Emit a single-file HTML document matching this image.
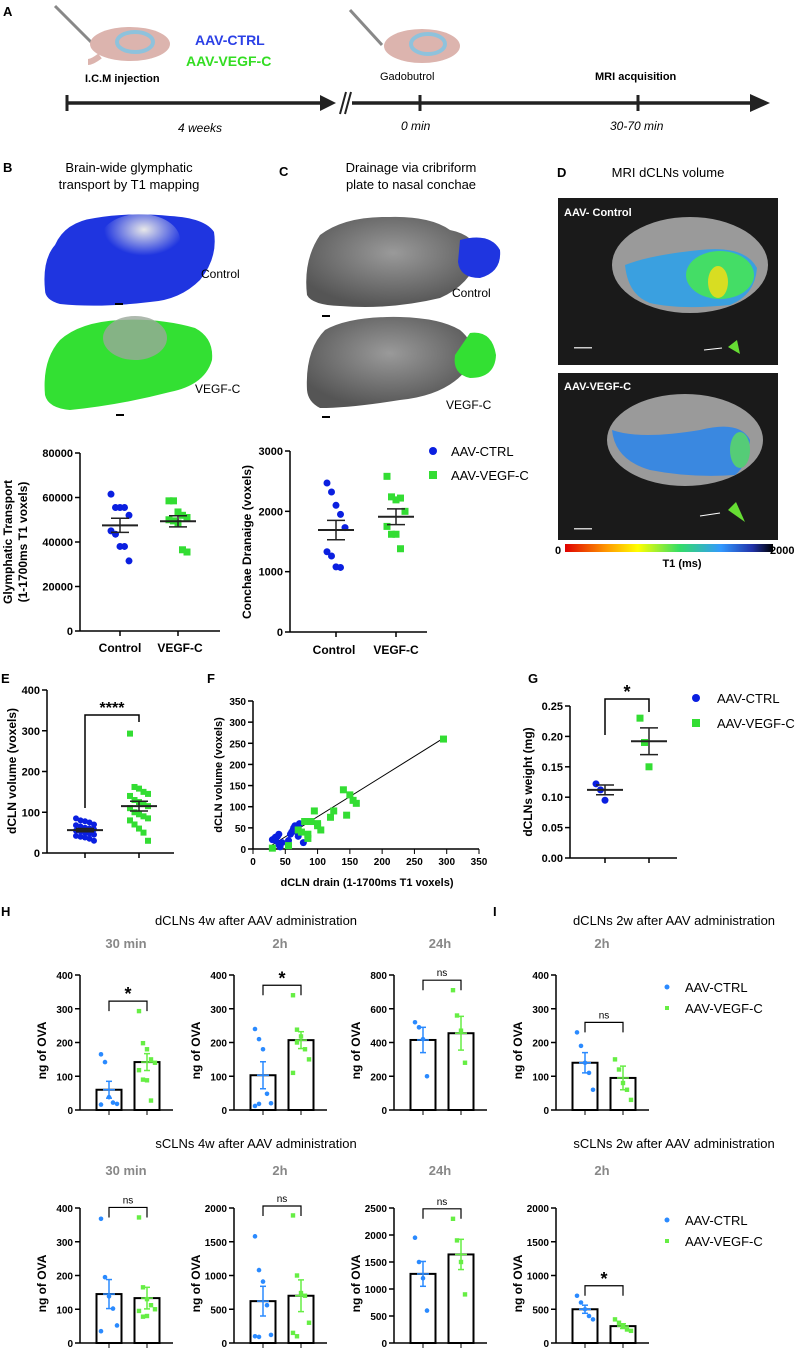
<!DOCTYPE html>
<html><head><meta charset="utf-8">
<style>
body{margin:0;background:#fff;}
svg{display:block;font-family:"Liberation Sans",Arial,sans-serif;}
</style></head>
<body>
<svg id="fig" width="799" height="1350" viewBox="0 0 799 1350">
<defs>
<radialGradient id="gb" cx="50%" cy="40%" r="60%"><stop offset="0" stop-color="#9a9a9a"/><stop offset="1" stop-color="#555"/></radialGradient>
<radialGradient id="gw" cx="55%" cy="30%" r="50%"><stop offset="0" stop-color="#e8e8e8"/><stop offset="1" stop-color="#e8e8e8" stop-opacity="0"/></radialGradient>
<linearGradient id="cbar" x1="0" x2="1"><stop offset="0" stop-color="#e00000"/><stop offset="0.2" stop-color="#ff9900"/><stop offset="0.35" stop-color="#ffff00"/><stop offset="0.55" stop-color="#33dd66"/><stop offset="0.75" stop-color="#3399ff"/><stop offset="0.9" stop-color="#2233aa"/><stop offset="1" stop-color="#000000"/></linearGradient>
</defs>

<!-- Panel A -->
<g>
<text x="3" y="16" font-size="13" font-weight="bold">A</text>
<line x1="67" y1="103" x2="322" y2="103" stroke="#222" stroke-width="3.5"/>
<polygon points="320,95 336,103 320,111" fill="#222"/>
<line x1="352" y1="103" x2="752" y2="103" stroke="#222" stroke-width="3.5"/>
<polygon points="750,94 770,103 750,112" fill="#222"/>
<line x1="340" y1="114" x2="346" y2="92" stroke="#222" stroke-width="2"/>
<line x1="345" y1="114" x2="351" y2="92" stroke="#222" stroke-width="2"/>
<line x1="67" y1="95" x2="67" y2="111" stroke="#222" stroke-width="3"/>
<line x1="420" y1="95" x2="420" y2="111" stroke="#222" stroke-width="3"/>
<line x1="638" y1="95" x2="638" y2="111" stroke="#222" stroke-width="3"/>
<g>
<line x1="55" y1="6" x2="92" y2="43" stroke="#888" stroke-width="3"/>
<ellipse cx="130" cy="44" rx="40" ry="17" fill="#dcb4ae"/>
<path d="M100,56 Q92,62 88,62" stroke="#dcb4ae" stroke-width="6" fill="none"/>
<ellipse cx="135" cy="42" rx="18" ry="10" fill="none" stroke="#8ec2dc" stroke-width="4"/>
</g>
<g>
<line x1="350" y1="10" x2="382" y2="45" stroke="#888" stroke-width="3"/>
<ellipse cx="422" cy="46" rx="38" ry="17" fill="#dcb4ae"/>
<ellipse cx="428" cy="44" rx="17" ry="10" fill="none" stroke="#8ec2dc" stroke-width="4"/>
</g>
<text x="85" y="82" font-size="11" font-weight="bold">I.C.M  injection</text>
<text x="195" y="45" font-size="14" font-weight="bold" fill="#2b40e6">AAV-CTRL</text>
<text x="186" y="66" font-size="14" font-weight="bold" fill="#33dd22">AAV-VEGF-C</text>
<text x="380" y="80" font-size="11">Gadobutrol</text>
<text x="595" y="80" font-size="11" font-weight="bold">MRI acquisition</text>
<text x="178" y="132" font-size="12" font-style="italic">4  weeks</text>
<text x="401" y="130" font-size="12" font-style="italic">0 min</text>
<text x="610" y="130" font-size="12" font-style="italic">30-70 min</text>
</g>

<!-- Panel B images -->
<g>
<text x="3" y="172" font-size="13" font-weight="bold">B</text>
<text x="129" y="172" font-size="13" text-anchor="middle">Brain-wide glymphatic</text>
<text x="129" y="189" font-size="13" text-anchor="middle">transport by T1 mapping</text>
<path d="M45,290 Q42,260 55,245 Q65,222 95,218 Q130,212 170,216 Q205,218 214,232 Q218,258 200,280 Q180,300 150,302 Q100,308 60,304 Q45,300 45,290Z" fill="#1f35e0"/>
<ellipse cx="140" cy="240" rx="40" ry="26" fill="url(#gw)"/>
<text x="201" y="278" font-size="12">Control</text>
<rect x="115" y="303" width="8" height="2" fill="#000"/>
<path d="M45,395 Q42,360 60,340 Q80,322 120,320 Q160,318 195,328 Q214,338 212,360 Q205,385 170,392 Q120,405 70,410 Q48,408 45,395Z" fill="#33e033"/>
<ellipse cx="135" cy="338" rx="32" ry="22" fill="#9aa89a" opacity="0.8"/>
<text x="195" y="393" font-size="12">VEGF-C</text>
<rect x="116" y="414" width="8" height="2" fill="#000"/>
</g>
<!-- Panel C images -->
<g>
<text x="279" y="176" font-size="13" font-weight="bold">C</text>
<text x="411" y="172" font-size="13" text-anchor="middle">Drainage via cribriform</text>
<text x="411" y="189" font-size="13" text-anchor="middle">plate to nasal conchae</text>
<path d="M307,295 Q303,260 320,235 Q345,216 390,217 Q430,216 450,230 Q475,235 480,255 Q470,285 440,298 Q390,310 340,306 Q312,305 307,295Z" fill="url(#gb)"/>
<path d="M460,240 Q490,232 500,250 Q502,272 480,278 Q460,278 458,262Z" fill="#1f35e0"/>
<text x="452" y="297" font-size="12">Control</text>
<rect x="322" y="315" width="8" height="2" fill="#000"/>
<path d="M307,390 Q305,350 325,330 Q350,316 400,317 Q440,318 460,330 Q478,345 470,365 Q450,395 400,400 Q350,408 320,408 Q308,402 307,390Z" fill="url(#gb)"/>
<path d="M470,333 Q492,330 496,355 Q495,378 470,378 Q452,374 455,355Z" fill="#33e033"/>
<text x="446" y="409" font-size="12">VEGF-C</text>
<rect x="322" y="416" width="8" height="2" fill="#000"/>
</g>

<!-- Panel D -->
<g>
<text x="557" y="177" font-size="13" font-weight="bold">D</text>
<text x="668" y="177" font-size="13" text-anchor="middle">MRI dCLNs volume</text>
<rect x="558" y="198" width="220" height="167" fill="#1a1a1a"/>
<ellipse cx="690" cy="265" rx="78" ry="48" fill="#9a9a9a"/>
<path d="M625,265 Q650,255 700,250 Q745,245 757,268 Q755,295 730,305 Q680,310 650,303 Q628,295 625,265Z" fill="#3aa0e0"/>
<ellipse cx="720" cy="275" rx="34" ry="24" fill="#44dd66"/>
<ellipse cx="718" cy="282" rx="10" ry="16" fill="#d8dd22"/>
<polygon points="728,347 737,340 740,354" fill="#66dd33"/>
<text x="564" y="216" font-size="11" font-weight="bold" fill="#fff">AAV- Control</text>
<line x1="704" y1="350" x2="722" y2="348" stroke="#fff"/>
<rect x="574" y="347" width="18" height="1.5" fill="#ccc"/>
<rect x="558" y="373" width="220" height="167" fill="#1a1a1a"/>
<ellipse cx="685" cy="440" rx="78" ry="46" fill="#9a9a9a"/>
<path d="M612,430 Q640,440 700,430 Q740,420 750,440 Q748,465 735,475 Q690,478 650,470 Q615,460 612,430Z" fill="#3a88e0"/>
<ellipse cx="740" cy="450" rx="10" ry="18" fill="#55cc77"/>
<polygon points="728,510 736,502 745,522" fill="#66dd33"/>
<text x="564" y="390" font-size="11" font-weight="bold" fill="#fff">AAV-VEGF-C</text>
<line x1="700" y1="516" x2="720" y2="513" stroke="#fff"/>
<rect x="574" y="528" width="18" height="1.5" fill="#ccc"/>
<rect x="565" y="544" width="208" height="8" fill="url(#cbar)"/>
<text x="555" y="554" font-size="11" font-weight="bold">0</text>
<text x="770" y="554" font-size="11" font-weight="bold">2000</text>
<text x="682" y="567" font-size="11" font-weight="bold" text-anchor="middle">T1 (ms)</text>
</g>

<!-- Legends -->
<g>
<circle cx="433" cy="451" r="4" fill="#0a1fe0"/><text x="451" y="456" font-size="13">AAV-CTRL</text>
<rect x="429" y="471" width="8" height="8" fill="#33dd33"/><text x="451" y="480" font-size="13">AAV-VEGF-C</text>
</g>
<g>
<circle cx="696" cy="698" r="4" fill="#0a1fe0"/><text x="717" y="703" font-size="13">AAV-CTRL</text>
<rect x="692" y="719" width="8" height="8" fill="#33dd33"/><text x="717" y="728" font-size="13">AAV-VEGF-C</text>
</g>
<g>
<circle cx="667" cy="987" r="2.5" fill="#2a8aff"/><text x="685" y="992" font-size="13">AAV-CTRL</text>
<rect x="665" y="1006" width="4" height="4" fill="#66ee44"/><text x="685" y="1013" font-size="13">AAV-VEGF-C</text>
</g>
<g>
<circle cx="667" cy="1220" r="2.5" fill="#2a8aff"/><text x="685" y="1225" font-size="13">AAV-CTRL</text>
<rect x="665" y="1239" width="4" height="4" fill="#66ee44"/><text x="685" y="1246" font-size="13">AAV-VEGF-C</text>
</g>

<!-- Panel labels & titles -->
<text x="1" y="683" font-size="13" font-weight="bold">E</text>
<text x="207" y="683" font-size="13" font-weight="bold">F</text>
<text x="528" y="683" font-size="13" font-weight="bold">G</text>
<text x="1" y="916" font-size="13" font-weight="bold">H</text>
<text x="493" y="916" font-size="13" font-weight="bold">I</text>
<text x="256" y="925" font-size="13" text-anchor="middle">dCLNs 4w after AAV administration</text>
<text x="674" y="925" font-size="13" text-anchor="middle">dCLNs 2w after AAV administration</text>
<text x="256" y="1148" font-size="13" text-anchor="middle">sCLNs 4w after AAV administration</text>
<text x="674" y="1148" font-size="13" text-anchor="middle">sCLNs  2w after AAV administration</text>
<g id="charts"></g>
</svg>
<script>
// Panel B
const bCtrl=[61500,55500,55500,55500,52000,45000,43500,38000,38000,31500];
const bVegf=[58500,58500,53500,52000,51000,50000,49500,48500,36500,35500];
const bMeans=[47500,49300];const bSem=[3200,2500];
// Panel C
const cCtrl=[2470,2320,2100,1950,1730,1330,1260,1080,1070];
const cVegf=[2580,2240,2190,2220,2000,1750,1620,1620,1380];
const cMeans=[1690,1910];const cSem=[160,130];
// Panel E
const eCtrl=[85,80,78,75,70,68,65,62,60,58,55,53,50,48,45,42,40,38,35,30];
const eVegf=[293,162,158,150,145,140,130,125,120,115,110,100,95,90,85,80,70,60,50,30];
const eMeans=[56,115];const eSem=[4,12];
// Panel F
const fCtrlX=[30,33,35,38,40,40,42,45,55,58,60,62,63,65,68,70,72,80,78,35];
const fCtrlY=[22,25,20,30,35,10,5,15,20,35,40,45,50,55,40,30,60,65,15,28];
const fVegfX=[30,55,70,75,80,85,90,95,100,100,105,120,125,140,145,150,155,160,295,85];
const fVegfY=[2,8,45,40,65,25,65,90,55,60,45,75,90,140,80,128,115,108,260,35];
const fFit=[[25,5],[295,262]];
// Panel G
const gCtrl=[0.122,0.112,0.095];const gVegf=[0.230,0.19,0.150];
const gMeans=[0.112,0.192];const gSem=[0.008,0.022];
// H/I bars
const hGroups=[
 {id:'h-30min',ax:80,row:0,max:400,step:100,sub:'30 min',ctrl:[165,142,38,22,18,16],vegf:[293,198,180,150,140,118,90,88,28],mean:[60,142],sem:[25,25],sig:'*'},
 {id:'h-2h',ax:234,row:0,max:400,step:100,sub:'2h',ctrl:[240,210,180,48,20,12,18],vegf:[340,238,218,180,150,110,200],mean:[103,207],sem:[40,25],sig:'*'},
 {id:'h-24h',ax:394,row:0,max:800,step:200,sub:'24h',ctrl:[520,490,420,200],vegf:[710,560,470,280],mean:[415,455],sem:[75,100],sig:'ns'},
 {id:'i-2h',ax:556,row:0,max:400,step:100,sub:'2h',ctrl:[230,190,140,110,60],vegf:[150,120,80,60,30],mean:[140,95],sem:[30,35],sig:'ns'},
 {id:'h-s-30min',ax:80,row:1,max:400,step:100,sub:'30 min',ctrl:[368,195,138,102,52,35],vegf:[372,165,130,112,100,95,78,80],mean:[145,133],sem:[43,32],sig:'ns'},
 {id:'h-s-2h',ax:234,row:1,max:2000,step:500,sub:'2h',ctrl:[1580,1080,910,560,120,100,90],vegf:[1890,1000,740,700,300,150,100],mean:[620,700],sem:[220,235],sig:'ns'},
 {id:'h-s-24h',ax:394,row:1,max:2500,step:500,sub:'24h',ctrl:[1950,1500,1200,600],vegf:[2300,1900,1500,900],mean:[1280,1640],sem:[230,280],sig:'ns'},
 {id:'i-s-2h',ax:556,row:1,max:2000,step:500,sub:'2h',ctrl:[700,600,500,400,350],vegf:[350,300,250,200,180],mean:[500,250],sem:[60,35],sig:'*'}
];
const NS='http://www.w3.org/2000/svg';
const root=document.getElementById('charts');
function el(tag,attrs,parent,txt){const e=document.createElementNS(NS,tag);for(const k in attrs)e.setAttribute(k,attrs[k]);if(txt!==undefined)e.textContent=txt;(parent||root).appendChild(e);return e;}
function yAxis(g,ax,y0,y1,max,step,fmt,fs){const sy=v=>y0-(v/max)*(y0-y1);
 el('line',{x1:ax,y1:y0,x2:ax,y2:y1,stroke:'#000','stroke-width':1.5},g);
 for(let t=0;t<=max+1e-9;t+=step){const y=sy(t);el('line',{x1:ax-5,y1:y,x2:ax,y2:y,stroke:'#000','stroke-width':1.5},g);
  el('text',{x:ax-7,y:y+4,'font-size':fs||11,'font-weight':'bold','text-anchor':'end'},g,fmt?fmt(t):t);}
 return sy;}
function yTitle(g,x,cy,lines,fs){lines.forEach((l,i)=>{el('text',{x:0,y:0,transform:`translate(${x+i*15},${cy}) rotate(-90)`,'font-size':fs||12,'font-weight':'bold','text-anchor':'middle'},g,l);});}
function dots(g,vals,cx,sy,color,shape,r,spread){vals.forEach((v,i)=>{const off=((i%5)-2)*spread;
 let m; if(shape==='c'){m=el('circle',{cx:cx+off,cy:sy(v),r:r,fill:color},g);}else{m=el('rect',{x:cx+off-r,y:sy(v)-r,width:2*r,height:2*r,fill:color},g);}
 
 });}
function meanSem(g,cx,m,s,sy,color,w,sw){el('line',{x1:cx-w,y1:sy(m),x2:cx+w,y2:sy(m),stroke:color,'stroke-width':sw||2},g);
 el('line',{x1:cx,y1:sy(m-s),x2:cx,y2:sy(m+s),stroke:color,'stroke-width':1.5},g);
 el('line',{x1:cx-w/2,y1:sy(m+s),x2:cx+w/2,y2:sy(m+s),stroke:color,'stroke-width':1.5},g);
 el('line',{x1:cx-w/2,y1:sy(m-s),x2:cx+w/2,y2:sy(m-s),stroke:color,'stroke-width':1.5},g);}
const BLUE='#0a1fe0',GREEN='#33dd33',LB='#2a8aff',LG='#66ee44';
function dotPlot(name,ax,y0,y1,max,step,cxs,xend,c,v,means,sems,fmt,r,mc){const g=el('g',{});
 const sy=yAxis(g,ax,y0,y1,max,step,fmt);el('line',{x1:ax,y1:y0,x2:xend,y2:y0,stroke:'#000','stroke-width':1.5},g);
 cxs.forEach(x=>el('line',{x1:x,y1:y0,x2:x,y2:y0+5,stroke:'#000','stroke-width':1.5},g));
 dots(g,c,cxs[0],sy,BLUE,'c',r,4.5);dots(g,v,cxs[1],sy,GREEN,'s',r,4.5);
 meanSem(g,cxs[0],means[0],sems[0],sy,mc||'#222',18);meanSem(g,cxs[1],means[1],sems[1],sy,mc||'#222',18);return g;}
// B
let g=dotPlot('chart-b-glymphatic',80,631,453,80000,20000,[120,178],220,bCtrl,bVegf,bMeans,bSem,null,3.5);
el('text',{x:120,y:652,'font-size':12,'font-weight':'bold','text-anchor':'middle'},g,'Control');
el('text',{x:180,y:652,'font-size':12,'font-weight':'bold','text-anchor':'middle'},g,'VEGF-C');
yTitle(g,12,542,['Glymphatic Transport','(1-1700ms T1 voxels)']);
// C
g=dotPlot('chart-c-conchae',290,632,451,3000,1000,[336,396],427,cCtrl,cVegf,cMeans,cSem,null,3.5);
el('text',{x:334,y:654,'font-size':12,'font-weight':'bold','text-anchor':'middle'},g,'Control');
el('text',{x:396,y:654,'font-size':12,'font-weight':'bold','text-anchor':'middle'},g,'VEGF-C');
yTitle(g,251,542,['Conchae Dranaige (voxels)']);
// E
g=dotPlot('chart-e-dcln-volume',47,853,690,400,100,[85,139],174,eCtrl,eVegf,eMeans,eSem,null,3);
el('path',{d:'M85,808 V715 H139 V722',fill:'none',stroke:'#000','stroke-width':1.5},g);
el('text',{x:112,y:713,'font-size':16,'font-weight':'bold','text-anchor':'middle'},g,'****');
yTitle(g,16,771,['dCLN volume (voxels)']);
// F
g=el('g',{});
{const ax=253,y0=849,sx=v=>ax+v/350*226;const sy=yAxis(g,ax,y0,701,350,50,null,10);
 el('line',{x1:ax,y1:y0,x2:479,y2:y0,stroke:'#000','stroke-width':1.5},g);
 for(let t=0;t<=350;t+=50){el('line',{x1:sx(t),y1:y0,x2:sx(t),y2:y0+5,stroke:'#000'},g);el('text',{x:sx(t),y:y0+16,'font-size':10,'font-weight':'bold','text-anchor':'middle'},g,t);}
 el('line',{x1:sx(fFit[0][0]),y1:sy(fFit[0][1]),x2:sx(fFit[1][0]),y2:sy(fFit[1][1]),stroke:'#000','stroke-width':1},g);
 fCtrlX.forEach((x,i)=>{const m=el('circle',{cx:sx(x),cy:sy(fCtrlY[i]),r:3.5,fill:BLUE},g);});
 fVegfX.forEach((x,i)=>{const m=el('rect',{x:sx(x)-3.5,y:sy(fVegfY[i])-3.5,width:7,height:7,fill:GREEN},g);});
 el('text',{x:367,y:886,'font-size':11,'font-weight':'bold','text-anchor':'middle'},g,'dCLN drain (1-1700ms T1 voxels)');
 yTitle(g,222,775,['dCLN volume (voxels)'],11);}
// G
g=dotPlot('chart-g-weight',570,858,706,0.25,0.05,[605,649],677,gCtrl,gVegf,gMeans,gSem,t=>t.toFixed(2),3.5);
el('path',{d:'M605,735 V699 H649 V712',fill:'none',stroke:'#000','stroke-width':1.5},g);
el('text',{x:627,y:698,'font-size':18,'font-weight':'bold','text-anchor':'middle'},g,'*');
yTitle(g,532,782,['dCLNs weight (mg)']);
// H/I
hGroups.forEach(p=>{const gg=el('g',{});
 const y0=p.row?1343:1110,y1=p.row?1208:975;const ax=p.ax;
 el('text',{x:ax+46,y:p.row?1175:948,'font-size':13,'font-weight':'bold',fill:'#888','text-anchor':'middle'},gg,p.sub);
 const sy=yAxis(gg,ax,y0,y1,p.max,p.step,null,10);
 el('line',{x1:ax,y1:y0,x2:ax+93,y2:y0,stroke:'#000','stroke-width':1.5},gg);
 const cx=[ax+29,ax+67];
 [0,1].forEach(i=>{el('line',{x1:cx[i],y1:y0,x2:cx[i],y2:y0+5,stroke:'#000'},gg);
  const b=el('rect',{x:cx[i]-12.5,y:sy(p.mean[i]),width:25,height:y0-sy(p.mean[i]),fill:'#fff',stroke:'#000','stroke-width':2},gg);
  });
 dots(gg,p.ctrl,cx[0],sy,LB,'c',2.3,4);dots(gg,p.vegf,cx[1],sy,LG,'s',2.2,4);
 meanSem(gg,cx[0],p.mean[0],p.sem[0],sy,LB,6,1.5);meanSem(gg,cx[1],p.mean[1],p.sem[1],sy,LG,6,1.5);
 const top=Math.min(sy(Math.max(...p.ctrl,...p.vegf)),sy(p.mean[1]+p.sem[1]))-10;const by=Math.max(top,y1-2);
 el('path',{d:`M${cx[0]},${by+10} V${by} H${cx[1]} V${by+10}`,fill:'none',stroke:'#000','stroke-width':1.2},gg);
 el('text',{x:(cx[0]+cx[1])/2,y:p.sig==='*'?by-1:by-4,'font-size':p.sig==='*'?18:10,'font-weight':p.sig==='*'?'bold':'normal','text-anchor':'middle'},gg,p.sig);
 yTitle(gg,ax-34,(y0+y1)/2+8,['ng of OVA']);});
</script>
</body></html>
